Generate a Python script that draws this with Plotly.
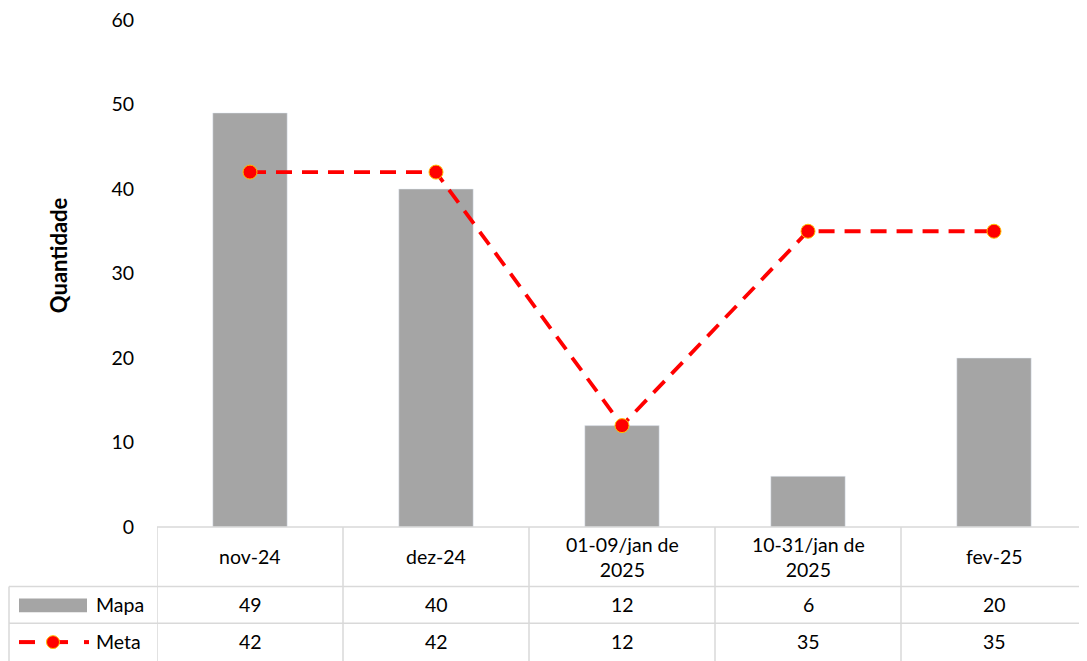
import plotly.graph_objects as go

categories = ["nov-24", "dez-24", "01-09/jan de<br>2025", "10-31/jan de<br>2025", "fev-25"]
mapa = [49, 40, 12, 6, 20]
meta = [42, 42, 12, 35, 35]
y_ticks = [0, 10, 20, 30, 40, 50, 60]

OFF = 8  # page body margin
W, H = 1087 - OFF, 661 - OFF
L, T = 157 - OFF, 16 - OFF
B = H - (527 - OFF)
R = 0
plot_h = H - T - B
plot_w = W - L - R

def py(pix):
    # screen pixel y -> paper y
    return (H - B - (pix - OFF)) / plot_h

def px(pix):
    return ((pix - OFF) - L) / plot_w

FONT = "Lato"
FS = 19.5
GRID = "#D9D9D9"
BAR = "#A5A5A5"
RED = "#FF0000"
MEDGE = "#FFC000"

fig = go.Figure()
fig.add_trace(go.Bar(x=categories, y=mapa, name="Mapa", marker_color=BAR, width=0.4))
fig.add_trace(go.Scatter(x=categories, y=meta, name="Meta", mode="lines+markers",
                         line=dict(color=RED, width=3.8, dash="16px,10px"),
                         marker=dict(color=RED, size=14, line=dict(color=MEDGE, width=1))))

shapes = []
shapes.append(dict(type="line", xref="paper", yref="paper", x0=0, x1=1, y0=py(527), y1=py(527),
                   line=dict(color=GRID, width=1.5)))
for yl in [587, 624]:
    shapes.append(dict(type="line", xref="paper", yref="paper", x0=px(9), x1=1, y0=py(yl), y1=py(yl),
                       line=dict(color=GRID, width=1.5)))
shapes.append(dict(type="line", xref="paper", yref="paper", x0=px(9), x1=px(9), y0=py(587), y1=py(662),
                   line=dict(color=GRID, width=1.5)))
for i in range(len(categories)):
    xv = i - 0.5
    shapes.append(dict(type="line", xref="x", yref="paper", x0=xv, x1=xv, y0=py(527), y1=py(662),
                       line=dict(color=GRID, width=1.5)))
shapes.append(dict(type="line", xref="paper", yref="paper", x0=px(1086), x1=px(1086), y0=py(527), y1=py(662),
                   line=dict(color=GRID, width=1.5)))
# legend keys
shapes.append(dict(type="rect", xref="paper", yref="paper", x0=px(19), x1=px(87), y0=py(599), y1=py(613),
                   fillcolor=BAR, line=dict(width=0)))
for a, b in [(19, 35), (50, 68), (84, 89)]:
    shapes.append(dict(type="line", xref="paper", yref="paper", x0=px(a), x1=px(b), y0=py(643), y1=py(643),
                       line=dict(color=RED, width=4)))
shapes.append(dict(type="circle", xref="paper", yref="paper", x0=px(46.5), x1=px(59.5), y0=py(636.5), y1=py(649.5),
                   fillcolor=RED, line=dict(color=MEDGE, width=1)))

ann = []
def add(x, y, text, xref="x", xanchor="center", **kw):
    ann.append(dict(x=x, y=y, xref=xref, yref="paper", text=text, showarrow=False,
                    xanchor=xanchor, yanchor="middle", align="center",
                    font=dict(family=FONT, size=FS, color="black"), **kw))

for i, c in enumerate(categories):
    add(i, py(557), c)
    add(i, py(605.5), str(mapa[i]))
    add(i, py(642.5), str(meta[i]))
add(px(94), py(605.5), "Mapa", xref="paper", xanchor="left")
add(px(94), py(642.5), "Meta", xref="paper", xanchor="left")
ann.append(dict(x=px(58), y=py(253), xref="paper", yref="paper", text="<b>Quantidade</b>", showarrow=False,
                xanchor="center", yanchor="middle", textangle=-90,
                font=dict(family=FONT, size=22, color="black")))

fig.update_layout(
    width=W, height=H,
    margin=dict(l=L, r=R, t=T, b=B),
    paper_bgcolor="white", plot_bgcolor="white",
    showlegend=False,
    font=dict(family=FONT, size=FS, color="black"),
    xaxis=dict(type="category", range=[-0.5, 4.5], showticklabels=False, showgrid=False,
               zeroline=False, showline=False, ticks=""),
    yaxis=dict(range=[0, 60], tickvals=y_ticks, showgrid=False, zeroline=False, showline=False,
               ticks="", ticklabelstandoff=22, ticklabeloverflow="allow",
               tickfont=dict(family=FONT, size=FS, color="black")),
    shapes=shapes,
    annotations=ann,
)

fig.write_html("out.html")
